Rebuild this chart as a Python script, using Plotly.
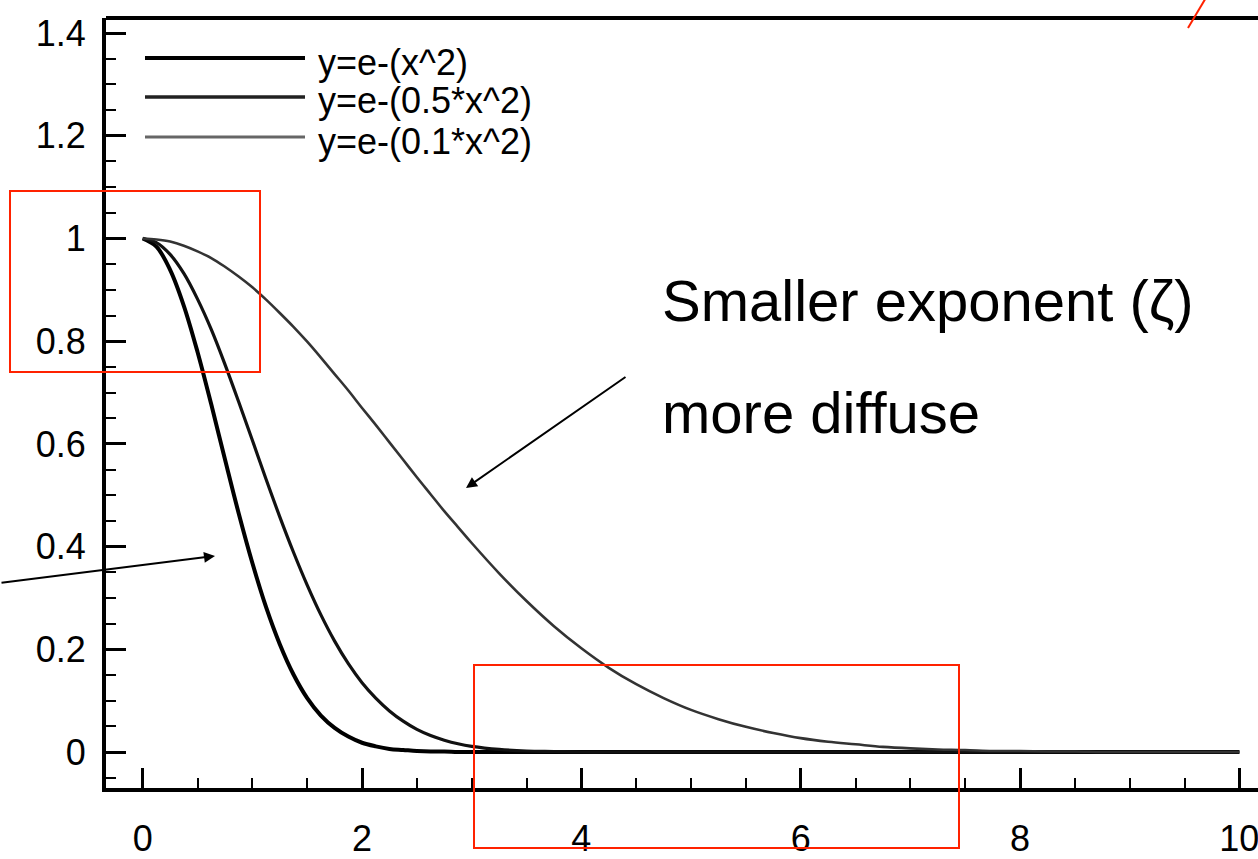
import plotly.graph_objects as go

# ---- data ----
x_vals = [0, 0.125, 0.25, 0.375, 0.5, 0.625, 0.75, 0.875, 1.0, 1.125, 1.25, 1.375,
          1.5, 1.625, 1.75, 1.875, 2.0, 2.125, 2.25, 2.375, 2.5, 2.625, 2.75, 2.875,
          3.0, 3.25, 3.5, 3.75, 4.0, 4.25, 4.5, 4.75, 5.0, 5.25, 5.5, 5.75, 6.0,
          6.25, 6.5, 6.75, 7.0, 7.25, 7.5, 7.75, 8.0, 8.25, 8.5, 8.75, 9.0,
          9.25, 9.5, 9.75, 10.0]

y_exp1 = [1.000, 0.984, 0.939, 0.869, 0.779, 0.677, 0.570, 0.465, 0.368, 0.282,
          0.210, 0.151, 0.105, 0.071, 0.047, 0.030, 0.018, 0.011, 0.006, 0.004,
          0.002, 0.001, 0.001, 0.000, 0.000,
          0.000, 0.000, 0.000, 0.000, 0.000, 0.000, 0.000, 0.000, 0.000, 0.000,
          0.000, 0.000, 0.000, 0.000, 0.000, 0.000, 0.000, 0.000, 0.000, 0.000,
          0.000, 0.000, 0.000, 0.000, 0.000, 0.000, 0.000, 0.000]

y_exp05 = [1.000, 0.992, 0.969, 0.932, 0.882, 0.823, 0.755, 0.682, 0.607, 0.531,
           0.458, 0.389, 0.325, 0.267, 0.216, 0.172, 0.135, 0.105, 0.080, 0.060,
           0.044, 0.032, 0.023, 0.016, 0.011,
           0.005, 0.002, 0.001, 0.000, 0.000, 0.000, 0.000, 0.000, 0.000, 0.000,
           0.000, 0.000, 0.000, 0.000, 0.000, 0.000, 0.000, 0.000, 0.000, 0.000,
           0.000, 0.000, 0.000, 0.000, 0.000, 0.000, 0.000, 0.000]

y_exp01 = [1.000, 0.998, 0.994, 0.986, 0.975, 0.962, 0.945, 0.926, 0.905, 0.881,
           0.855, 0.828, 0.799, 0.768, 0.736, 0.704, 0.670, 0.637, 0.603, 0.569,
           0.535, 0.502, 0.469, 0.438, 0.407,
           0.348, 0.294, 0.245, 0.202, 0.164, 0.132, 0.105, 0.082, 0.064, 0.049,
           0.037, 0.027, 0.020, 0.015, 0.010, 0.007, 0.005, 0.004, 0.002, 0.002,
           0.001, 0.001, 0.000, 0.000, 0.000, 0.000, 0.000, 0.000]

series_names = ["y=e-(x^2)", "y=e-(0.5*x^2)", "y=e-(0.1*x^2)"]
series_data = [y_exp1, y_exp05, y_exp01]
series_width = [4, 3.2, 2.6]
series_color = ["#000000", "#111111", "#333333"]
legend_width = [4, 3.6, 3.2]
legend_color = ["#000000", "#222222", "#666666"]

x_ticks = [0, 2, 4, 6, 8, 10]
y_ticks = [0, 0.2, 0.4, 0.6, 0.8, 1, 1.2, 1.4]
y_ticktext = ["0", "0.2", "0.4", "0.6", "0.8", "1", "1.2", "1.4"]

annot_line1 = "Smaller exponent (ζ)"
annot_line2 = "more diffuse"

# ---- figure ----
W, H = 1258, 859
L, T, B, R = 106, 18, 71, 0
PW, PH = W - L - R, H - T - B


def px(xp):
    return (xp - L) / PW


def py(yp):
    return (H - B - yp) / PH


fig = go.Figure()
for name, ys, w, c in zip(series_names, series_data, series_width, series_color):
    fig.add_trace(go.Scatter(x=x_vals, y=ys, mode="lines", name=name,
                             line=dict(color=c, width=w, shape="spline", smoothing=1.0),
                             showlegend=False, hoverinfo="skip"))

font_family = "Liberation Sans, Arial, Helvetica, sans-serif"
TICK_FS = 36

fig.update_layout(
    width=W, height=H,
    margin=dict(l=L, r=R, t=T, b=B, pad=0, autoexpand=False),
    paper_bgcolor="white", plot_bgcolor="white",
    font=dict(family=font_family, size=TICK_FS, color="black"),
    hovermode=False,
)

fig.update_xaxes(
    range=[-0.3347, 10.170], showgrid=False, zeroline=False, automargin=False,
    showline=True, linecolor="black", linewidth=4,
    tickmode="array", tickvals=x_ticks,
    ticks="inside", ticklen=20, tickwidth=2.5, tickcolor="black",
    ticklabelstandoff=16, ticklabeloverflow="allow",
    tickfont=dict(size=TICK_FS, family=font_family, color="black"),
    minor=dict(dtick=0.5, tick0=0, ticks="inside", ticklen=10, tickwidth=1.5,
               tickcolor="black", showgrid=False),
)
fig.update_yaxes(
    range=[-0.0701, 1.4294], showgrid=False, zeroline=False, automargin=False,
    showline=True, linecolor="black", linewidth=4,
    tickmode="array", tickvals=y_ticks, ticktext=y_ticktext,
    ticks="inside", ticklen=20, tickwidth=2.5, tickcolor="black",
    ticklabelstandoff=9, ticklabeloverflow="allow",
    tickfont=dict(size=TICK_FS, family=font_family, color="black"),
    minor=dict(dtick=0.05, tick0=0, ticks="inside", ticklen=10, tickwidth=1.5,
               tickcolor="black", showgrid=False),
)

shapes = []
# top frame line
shapes.append(dict(type="line", xref="paper", yref="paper", x0=0, x1=1.01, y0=1, y1=1,
                   line=dict(color="black", width=4)))
# manual legend
leg_rows = [58, 97, 137]
for yrow, w, c in zip(leg_rows, legend_width, legend_color):
    shapes.append(dict(type="line", xref="paper", yref="paper",
                       x0=px(145), x1=px(305), y0=py(yrow), y1=py(yrow),
                       line=dict(color=c, width=w)))
# red boxes
red = "#ff2200"
shapes.append(dict(type="rect", xref="paper", yref="paper",
                   x0=px(10), x1=px(260), y0=py(372), y1=py(191),
                   line=dict(color=red, width=2)))
shapes.append(dict(type="rect", xref="paper", yref="paper",
                   x0=px(474), x1=px(959), y0=py(848), y1=py(665),
                   line=dict(color=red, width=2)))
shapes.append(dict(type="line", xref="paper", yref="paper",
                   x0=px(1188), x1=px(1207), y0=py(28), y1=py(-4),
                   line=dict(color=red, width=2)))
fig.update_layout(shapes=shapes)

annots = []
for yrow, name in zip(leg_rows, series_names):
    annots.append(dict(xref="paper", yref="paper", x=px(316), y=py(yrow + 4),
                       xanchor="left", yanchor="middle", text=name, showarrow=False,
                       font=dict(size=TICK_FS, family=font_family, color="black")))
annots.append(dict(xref="paper", yref="paper", x=px(660), y=py(300),
                   xanchor="left", yanchor="middle", text=annot_line1, showarrow=False,
                   font=dict(size=58, family=font_family, color="black")))
annots.append(dict(xref="paper", yref="paper", x=px(660), y=py(412),
                   xanchor="left", yanchor="middle", text=annot_line2, showarrow=False,
                   font=dict(size=58, family=font_family, color="black")))
# arrows
annots.append(dict(xref="paper", yref="paper", x=px(466), y=py(488),
                   ax=627 - 466, ay=376 - 488, axref="pixel", ayref="pixel",
                   text="", showarrow=True, arrowhead=2, arrowsize=1.1,
                   arrowwidth=2, arrowcolor="black", standoff=0, startstandoff=0))
annots.append(dict(xref="paper", yref="paper", x=px(215), y=py(556),
                   ax=-215, ay=583 - 556, axref="pixel", ayref="pixel",
                   text="", showarrow=True, arrowhead=2, arrowsize=1.1,
                   arrowwidth=2, arrowcolor="black", standoff=0, startstandoff=0))
fig.update_layout(annotations=annots)

fig.write_html("out.html")
